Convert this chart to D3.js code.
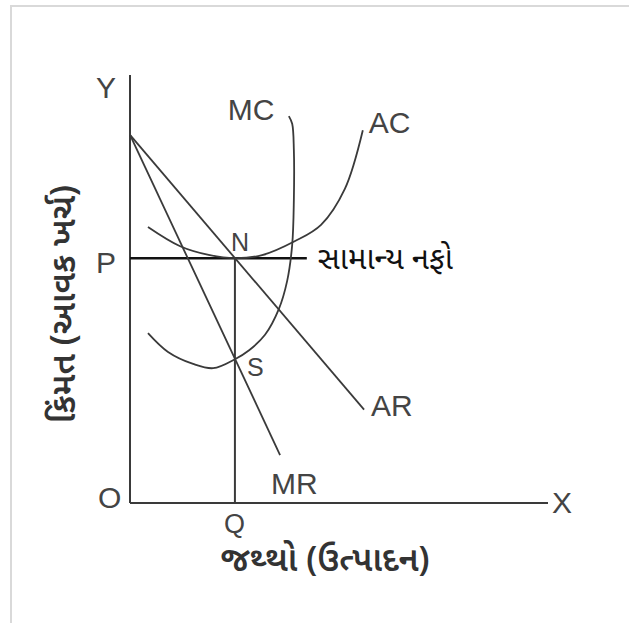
<!DOCTYPE html>
<html>
<head>
<meta charset="utf-8">
<script src="https://cdn.jsdelivr.net/npm/d3@7/dist/d3.min.js"></script>
<style>
  html, body { margin: 0; padding: 0; background: #fff; }
  svg { display: block; }
</style>
</head>
<body>
<svg id="chart" width="629" height="623"></svg>
<script>
// Monopolistic competition, long-run equilibrium with normal profit.
// Quantity on X, price (revenue / cost) on Y, both in abstract units 0..10.

const axisLetters = ["Y", "X", "O"];
const curveNames = ["AR", "MR", "AC", "MC"];
const pointNames = ["P", "Q", "N", "S"];

// Demand (average revenue) and marginal revenue lines: [quantity, price]
const arLine = [[0, 8.6], [5.6, 2.18]];
const mrLine = [[0, 8.6], [3.59, 1.12]];

// Average cost curve: [quantity, price]
const acCurve = [
  [0.43, 6.45], [1.20, 6.00], [1.91, 5.79], [2.51, 5.72], [3.16, 5.79],
  [3.95, 6.12], [4.57, 6.50], [5.14, 7.34], [5.57, 8.71]
];

// Marginal cost curve: [quantity, price]
const mcCurve = [
  [0.43, 3.97], [0.91, 3.53], [1.51, 3.25], [1.99, 3.15], [2.51, 3.36],
  [2.85, 3.57], [3.23, 3.93], [3.56, 4.53], [3.76, 5.19], [3.88, 6.03],
  [3.92, 7.08], [3.92, 8.25], [3.88, 8.86], [3.80, 9.04]
];

// Equilibrium quantity and price
const eqQuantity = [2.51];
const eqPrice = [5.72];
const priceLineEnd = [4.23];

const profitLabel = "સામાન્ય નફો";
const xTitle = "જથ્થો (ઉત્પાદન)";
const yTitle = "કિંમત (આવક ખર્ચ)";

const svg = d3.select("#chart");

const x = d3.scaleLinear().domain([0, 10]).range([130, 548]);
const y = d3.scaleLinear().domain([0, 10]).range([503, 75]);

// Outer frame
svg.append("path")
  .attr("d", "M11,623 V6 H629")
  .attr("fill", "none")
  .attr("stroke", "#d9d9d9")
  .attr("stroke-width", 2);

const ink = "#3a3a3a";
const labelFont = "'Liberation Sans', Arial, sans-serif";

// Axes
const axes = svg.append("g").attr("stroke", ink).attr("stroke-width", 2).attr("fill", "none");
axes.append("line").attr("x1", x(0)).attr("x2", x(0)).attr("y1", y(10)).attr("y2", y(0));
axes.append("line").attr("x1", x(0)).attr("x2", x(10)).attr("y1", y(0)).attr("y2", y(0));

// Equilibrium guides: price line P–N and quantity line N–Q
svg.append("line")
  .attr("x1", x(0)).attr("x2", x(priceLineEnd[0]))
  .attr("y1", y(eqPrice[0])).attr("y2", y(eqPrice[0]))
  .attr("stroke", "#111").attr("stroke-width", 2.6);
svg.append("line")
  .attr("x1", x(eqQuantity[0])).attr("x2", x(eqQuantity[0]))
  .attr("y1", y(eqPrice[0])).attr("y2", y(0))
  .attr("stroke", ink).attr("stroke-width", 2);

// Revenue lines
const straight = d3.line().x(d => x(d[0])).y(d => y(d[1]));
[arLine, mrLine].forEach(pts => {
  svg.append("path").attr("d", straight(pts))
    .attr("fill", "none").attr("stroke", ink).attr("stroke-width", 1.8);
});

// Cost curves
const smooth = d3.line().x(d => x(d[0])).y(d => y(d[1])).curve(d3.curveCatmullRom.alpha(0.5));
[acCurve, mcCurve].forEach(pts => {
  svg.append("path").attr("d", smooth(pts))
    .attr("fill", "none").attr("stroke", ink).attr("stroke-width", 1.8);
});

// Letter labels
function letter(txt, px, py, size) {
  svg.append("text").text(txt)
    .attr("x", px).attr("y", py)
    .attr("font-family", labelFont)
    .attr("font-size", size)
    .attr("fill", "#444");
}
const big = 30, small = 25;
letter(axisLetters[0], x(0) - 34, y(10) + 23, big);
letter(axisLetters[1], x(10) + 4, y(0) + 10, big);
letter(axisLetters[2], x(0) - 32, y(0) + 5, big);

const arEnd = arLine[1], mrEnd = mrLine[1];
const acTop = acCurve[acCurve.length - 1], mcTop = mcCurve[mcCurve.length - 1];
letter(curveNames[0], x(arEnd[0]) + 7, y(arEnd[1]) + 6, big);
letter(curveNames[1], x(mrEnd[0]) - 9, y(mrEnd[1]) + 39, big);
letter(curveNames[2], x(acTop[0]) + 6, y(acTop[1]) + 3, big);
letter(curveNames[3], x(mcTop[0]) - 61, y(mcTop[1]) + 4, big);

letter(pointNames[0], x(0) - 34, y(eqPrice[0]) + 15, big);
letter(pointNames[1], x(eqQuantity[0]) - 11, y(0) + 30, small + 2);
letter(pointNames[2], x(eqQuantity[0]) - 4, y(eqPrice[0]) - 7, small);
letter(pointNames[3], x(eqQuantity[0]) + 12, y(3.36) + 17, small);

// Gujarati captions
const gujFont = "'Noto Sans Gujarati', 'Lohit Gujarati', 'Noto Sans', sans-serif";
svg.append("text").text(profitLabel)
  .attr("x", x(priceLineEnd[0]) + 11).attr("y", y(eqPrice[0]) + 11)
  .attr("font-family", gujFont).attr("font-size", 31).attr("fill", "#111");

svg.append("text").text(xTitle)
  .attr("x", 325).attr("y", 571)
  .attr("text-anchor", "middle")
  .attr("font-family", gujFont).attr("font-size", 34).attr("font-weight", 600)
  .attr("fill", "#333");

svg.append("text").text(yTitle)
  .attr("transform", "translate(75,304) rotate(-90)")
  .attr("text-anchor", "middle")
  .attr("font-family", gujFont).attr("font-size", 34).attr("font-weight", 600)
  .attr("fill", "#333");
</script>
</body>
</html>
